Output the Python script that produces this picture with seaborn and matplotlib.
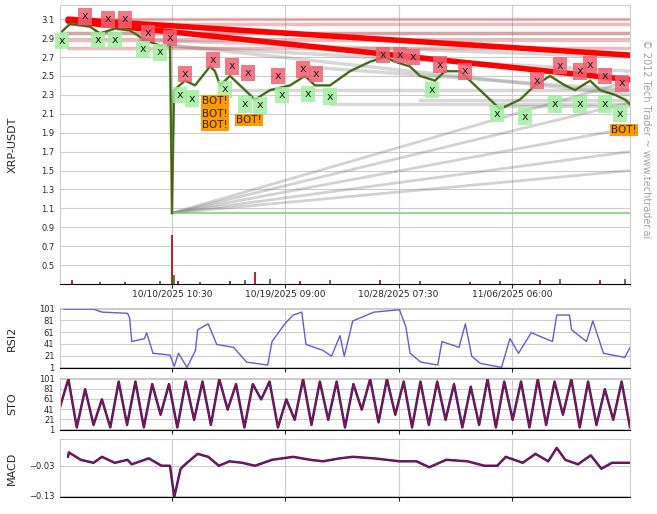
import numpy as np
import pandas as pd
import matplotlib.pyplot as plt
import seaborn as sns

sns.set_style("white")
plt.rcParams['font.family'] = ['DejaVu Sans']

# x positions are read in pixels off the picture, converted to days below
price_px = [62, 70, 90, 100, 115, 130, 145, 160, 170, 172, 174, 185, 195, 210, 215, 220, 230, 245, 255, 270,
            290, 305, 315, 330, 350, 370, 385, 395, 410, 420, 435, 445, 460, 475, 490, 500, 520, 535, 550, 565,
            575, 590, 600, 615, 625, 630]
price = [2.97, 3.05, 3.02, 2.95, 3.00, 2.98, 2.88, 2.82, 2.83, 1.05, 2.35, 2.45, 2.40, 2.60, 2.55, 2.40, 2.50,
         2.35, 2.25, 2.35, 2.40, 2.50, 2.40, 2.40, 2.55, 2.65, 2.70, 2.65, 2.60, 2.50, 2.45, 2.55, 2.55, 2.40,
         2.25, 2.15, 2.25, 2.40, 2.50, 2.40, 2.35, 2.45, 2.35, 2.30, 2.25, 2.20]

sell_px = [85, 108, 125, 148, 170, 185, 213, 232, 248, 278, 303, 316, 383, 400, 413, 440, 465, 537, 560, 580, 590, 605, 622]
sell_y = [3.13, 3.10, 3.10, 2.95, 2.90, 2.52, 2.67, 2.60, 2.53, 2.50, 2.57, 2.52, 2.72, 2.72, 2.70, 2.62, 2.55,
          2.45, 2.61, 2.55, 2.62, 2.50, 2.42]
buy_px = [62, 98, 115, 143, 160, 180, 192, 225, 245, 260, 282, 308, 330, 432, 497, 525, 555, 580, 605, 620]
buy_y = [2.87, 2.88, 2.88, 2.78, 2.75, 2.30, 2.26, 2.36, 2.20, 2.19, 2.30, 2.31, 2.28, 2.35, 2.10, 2.07, 2.20,
         2.20, 2.20, 2.10]
bot_px = [215, 215, 215, 249, 624]
bot_y = [2.23, 2.10, 1.98, 2.03, 1.93]

vol_px = [72, 100, 125, 160, 172, 174, 178, 200, 230, 245, 255, 270, 300, 330, 380, 420, 470, 500, 540, 560, 600, 625]
vol = [0.34, 0.32, 0.32, 0.33, 0.82, 0.40, 0.33, 0.32, 0.33, 0.34, 0.43, 0.35, 0.33, 0.34, 0.34, 0.33, 0.32,
       0.33, 0.34, 0.35, 0.34, 0.35]

rsi_zx = [150, 220, 240, 300, 305, 310, 340, 345, 360, 400, 410, 420, 440, 460, 465, 490, 510, 550, 580, 630,
          640, 670, 690, 710, 720, 760, 780, 800, 810, 830, 880, 940, 955, 965, 990, 1030, 1040, 1080, 1095,
          1110, 1130, 1180, 1200, 1220, 1250, 1300, 1310, 1340, 1345, 1380, 1395, 1420, 1470, 1490, 1505]
rsi = [100, 100, 95, 93, 85, 45, 50, 60, 25, 22, 3, 25, 1, 30, 65, 75, 40, 35, 10, 5, 45, 75, 90, 95, 40, 30,
       20, 55, 20, 80, 95, 99, 70, 25, 10, 5, 45, 35, 75, 20, 8, 1, 50, 25, 60, 45, 90, 90, 65, 45, 80, 25, 18,
       45, 8]

sto = [45, 100, 5, 80, 10, 60, 5, 95, 10, 95, 5, 90, 30, 90, 5, 95, 20, 95, 10, 100, 40, 90, 5, 90, 60, 95, 5,
       60, 20, 100, 10, 95, 20, 95, 5, 90, 40, 100, 15, 100, 30, 95, 5, 95, 10, 95, 20, 90, 5, 85, 10, 100, 5,
       95, 20, 95, 5, 100, 10, 95, 30, 100, 5, 95, 10, 80, 20, 95, 5]

macd_zx = [160, 162, 190, 220, 240, 270, 300, 310, 350, 380, 400, 410, 425, 440, 465, 490, 515, 540, 570, 600,
           640, 690, 730, 760, 800, 830, 880, 940, 980, 1010, 1050, 1100, 1140, 1170, 1190, 1230, 1260, 1290,
           1310, 1330, 1360, 1390, 1415, 1440, 1490, 1505]
macd = [0.0, 0.015, -0.01, -0.02, 0.0, -0.02, -0.01, -0.025, -0.005, -0.03, -0.03, -0.135, -0.04, -0.02, 0.01,
        0.0, -0.03, -0.015, -0.02, -0.03, -0.01, 0.0, -0.01, -0.015, -0.005, 0.0, -0.005, -0.015, -0.015, -0.035,
        -0.01, -0.015, -0.03, -0.03, 0.0, -0.02, 0.01, -0.015, 0.03, -0.01, -0.025, 0.005, -0.04, -0.02, -0.02,
        -0.03]

tick_days = [8.84, 17.78, 26.72, 35.66]
tick_labels = ["10/10/2025 10:30", "10/19/2025 09:00", "10/28/2025 07:30", "11/06/2025 06:00"]


def px2d(p):
    return (np.asarray(p, float) - 60) / 12.67


def zx2d(z):
    return px2d(np.asarray(z, float) / 2.353)


XMAX = px2d(630)

fig = plt.figure(figsize=(6.57, 5.14), dpi=100)
ax = fig.add_axes([60/657, 1-284/514, 570/657, 279/514])
ax1 = fig.add_axes([60/657, 1-368/514, 570/657, 60/514], sharex=ax)
ax2 = fig.add_axes([60/657, 1-430/514, 570/657, 52/514], sharex=ax)
ax3 = fig.add_axes([60/657, 1-497/514, 570/657, 58/514], sharex=ax)

# --- main price panel
xs = px2d(price_px)
# gray fan lines from the low
for end in [2.45, 2.22, 1.95, 1.70, 1.50]:
    ax.plot([px2d(172), XMAX], [1.05, end], color="gray", alpha=0.35, lw=2)
for y0, y1, x0 in [(2.95, 2.95, 62), (2.35, 2.35, 230), (2.20, 2.20, 330), (2.25, 2.25, 420), (2.18, 2.18, 490),
                   (2.82, 2.55, 160), (2.83, 2.30, 165), (2.88, 2.70, 140), (2.60, 2.35, 300)]:
    ax.plot([px2d(x0), XMAX], [y0, y1], color="gray", alpha=0.3, lw=2.5)
for y in [3.10, 3.05, 2.95, 2.88, 2.80]:
    ax.plot([px2d(68), XMAX], [y, y], color="#d04040", alpha=0.35, lw=2.5)
ax.plot([px2d(172), XMAX], [1.05, 1.05], color="#80d080", lw=1.2)
ax.plot([px2d(68), XMAX], [3.10, 2.72], color="#ff0000", lw=4)
ax.plot([px2d(68), XMAX], [3.08, 2.46], color="#ff0000", lw=4)

ax.vlines(px2d(vol_px), 0.3, vol, colors=["#b00000", "#207020"] * 11, lw=1.2)
sns.lineplot(x=xs, y=price, ax=ax, color="#20a020", lw=1.8)
sns.lineplot(x=xs, y=price, ax=ax, color="#a02020", lw=0.6)

for x, y in zip(px2d(sell_px), sell_y):
    ax.text(x, y, "x", ha="center", va="center", fontsize=8,
            bbox=dict(boxstyle="square,pad=0.3", fc="#f06070", ec="none", alpha=0.85))
for x, y in zip(px2d(buy_px), buy_y):
    ax.text(x, y, "x", ha="center", va="center", fontsize=8,
            bbox=dict(boxstyle="square,pad=0.3", fc="#a0f0a0", ec="none", alpha=0.85))
for x, y in zip(px2d(bot_px), bot_y):
    ax.text(x, y, "BOT!", ha="center", va="center", fontsize=7.5,
            bbox=dict(boxstyle="square,pad=0.1", fc="#ff9900", ec="none"))

ax.set_ylim(0.3, 3.25)
ax.set_yticks(np.arange(0.5, 3.15, 0.2))
ax.set_yticklabels([f"{v:.1f}" for v in np.arange(0.5, 3.15, 0.2)])
ax.set_ylabel("XRP-USDT", fontsize=8)

# --- RSI
sns.lineplot(x=zx2d(rsi_zx), y=rsi, ax=ax1, color="#6a5acd", lw=1)
ax1.set_ylim(0, 102)
ax1.set_yticks([1, 21, 41, 61, 81, 101])
ax1.set_ylabel("RSI2", fontsize=8)

# --- STO
sto_x = np.linspace(0, XMAX, len(sto))
sns.lineplot(x=sto_x, y=sto, ax=ax2, color="#2020a0", lw=1.8)
sns.lineplot(x=sto_x, y=sto, ax=ax2, color="#a01020", lw=0.9)
ax2.set_ylim(0, 102)
ax2.set_yticks([1, 21, 41, 61, 81, 101])
ax2.set_ylabel("STO", fontsize=8)

# --- MACD
sns.lineplot(x=zx2d(macd_zx), y=macd, ax=ax3, color="#2020a0", lw=1.8)
sns.lineplot(x=zx2d(macd_zx), y=macd, ax=ax3, color="#a01020", lw=0.9)
ax3.set_ylim(-0.135, 0.06)
ax3.set_yticks([-0.13, -0.03])
ax3.set_ylabel("MACD", fontsize=8)

for a in [ax, ax1, ax2, ax3]:
    a.set_xlim(0, XMAX)
    a.set_xticks(tick_days)
    a.grid(True, color="#cccccc", lw=0.8)
    a.tick_params(labelsize=6, length=3, pad=1, direction="out", bottom=True, left=False)
    for s in ["left", "right", "top"]:
        a.spines[s].set_color("#cccccc")
    a.spines["bottom"].set_color("black")
    a.yaxis.set_label_coords(-0.075, 0.5)
ax.set_xticklabels(tick_labels, fontsize=6.5)
for a in [ax1, ax2, ax3]:
    a.tick_params(labelbottom=False)

fig.text(0.984, 0.73, "© 2012 Tech Trader ~ www.techtrader.ai", rotation=270, fontsize=7,
         color="#a0a0a0", ha="center", va="center")

fig.savefig("out.png", dpi=100)
